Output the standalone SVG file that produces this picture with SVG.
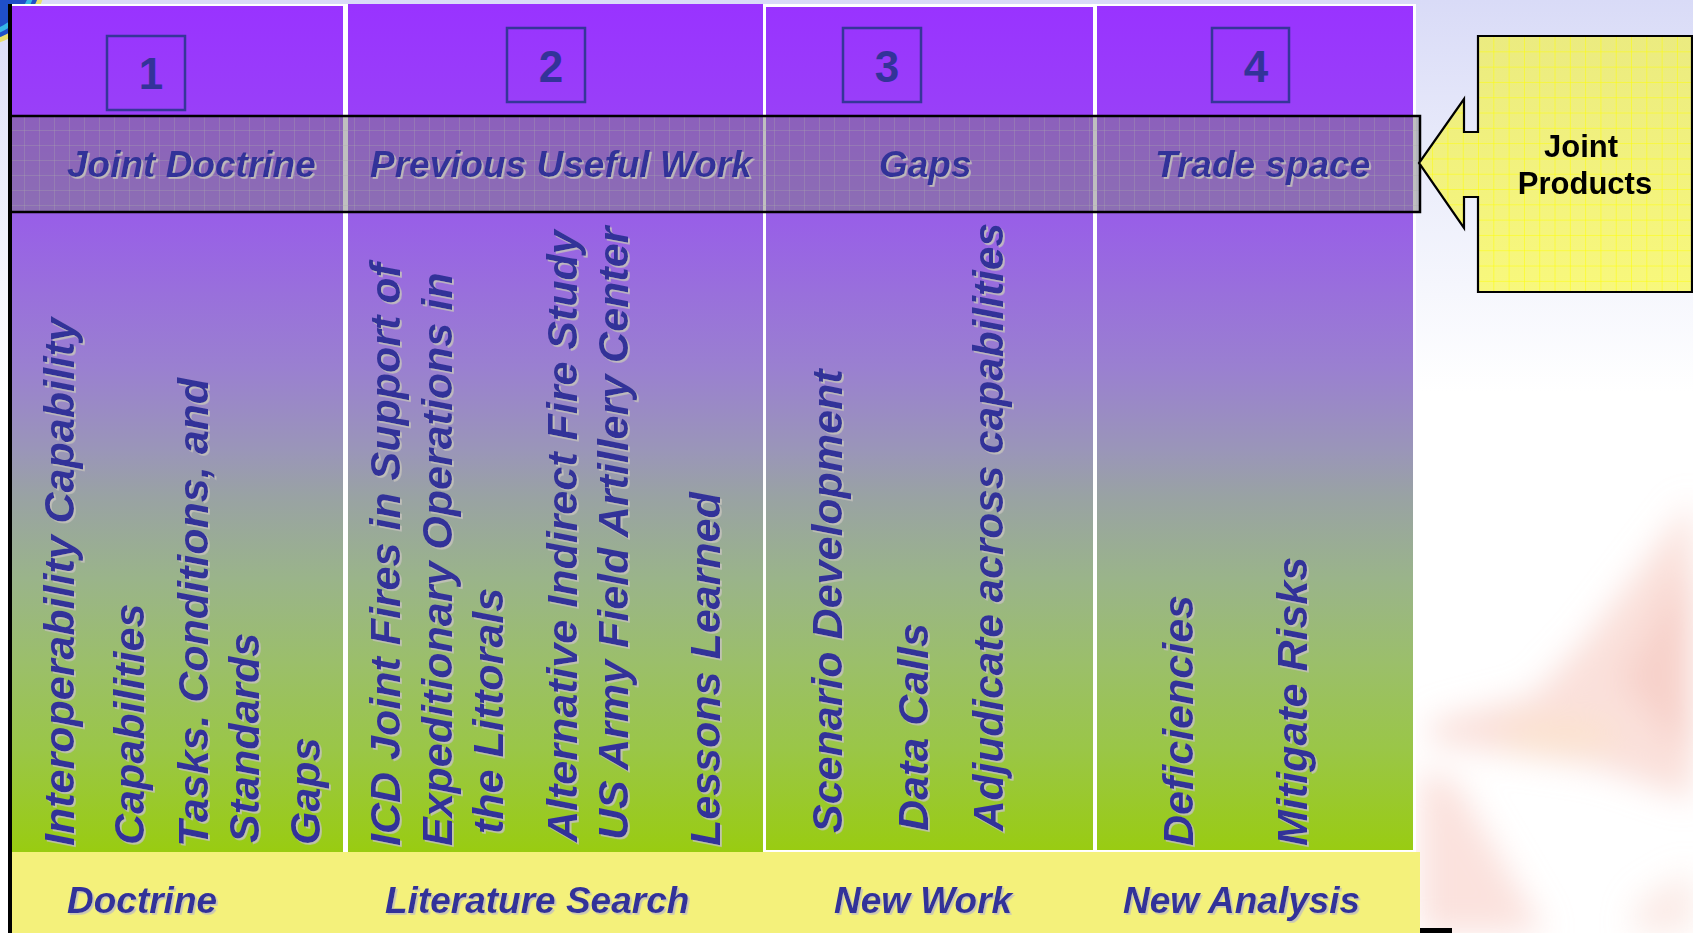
<svg xmlns="http://www.w3.org/2000/svg" width="1693" height="933" viewBox="0 0 1693 933">
  <style>
    .lbl { font-family: "Liberation Sans", Arial, sans-serif; font-weight: bold; font-style: italic; font-size: 37px; fill: #333399; }
    .vt { font-family: "Liberation Sans", Arial, sans-serif; font-weight: bold; font-style: italic; font-size: 43px; fill: #333399; }
    .num { font-family: "Liberation Sans", Arial, sans-serif; font-weight: bold; font-size: 44px; fill: #333399; text-anchor: middle; }
    .numbox { fill: none; stroke: #363699; stroke-width: 2.5; }
    .col { fill: url(#colFill); }
    .col-edged { fill: url(#colFill); stroke: #ffffff; stroke-width: 2; }
    .jp { font-family: "Liberation Sans", Arial, sans-serif; font-weight: bold; font-size: 31px; fill: #000000; text-anchor: middle; }
  </style>
  <defs>
    <linearGradient id="pageBg" gradientUnits="userSpaceOnUse" x1="0" y1="0" x2="0" y2="933">
      <stop offset="0" stop-color="#d9dbf7"/>
      <stop offset="0.2" stop-color="#eceefb"/>
      <stop offset="0.42" stop-color="#ffffff"/>
      <stop offset="1" stop-color="#ffffff"/>
    </linearGradient>
    <linearGradient id="colFill" gradientUnits="userSpaceOnUse" x1="0" y1="6" x2="0" y2="852">
      <stop offset="0" stop-color="#9933ff"/>
      <stop offset="0.13" stop-color="#9940f8"/>
      <stop offset="0.245" stop-color="#985ee8"/>
      <stop offset="0.428" stop-color="#9a80d0"/>
      <stop offset="0.527" stop-color="#9a96b8"/>
      <stop offset="0.578" stop-color="#99a2a4"/>
      <stop offset="0.677" stop-color="#9ab48a"/>
      <stop offset="0.777" stop-color="#9bbf6a"/>
      <stop offset="0.876" stop-color="#9ac648"/>
      <stop offset="1" stop-color="#99cc11"/>
    </linearGradient>
    <linearGradient id="calloutFill" x1="0" y1="0" x2="0" y2="1">
      <stop offset="0" stop-color="#ebeb80"/>
      <stop offset="1" stop-color="#f8f87c"/>
    </linearGradient>
    <pattern id="bandGrid" width="15" height="15" patternUnits="userSpaceOnUse" x="10" y="116">
      <path d="M15 0 V15 M0 15 H15" stroke="#a8a8a8" stroke-width="1" fill="none" opacity="0.6"/>
    </pattern>
    <pattern id="yellowGrid" width="15.3" height="15.3" patternUnits="userSpaceOnUse" x="1479" y="37">
      <path d="M15.3 0 V15.3 M0 15.3 H15.3" stroke="#ffff00" stroke-width="1" fill="none"/>
    </pattern>
    <filter id="textShadow" x="-5%" y="-5%" width="110%" height="110%">
      <feDropShadow dx="1.8" dy="1.8" stdDeviation="0.3" flood-color="#c4c2bc" flood-opacity="0.9"/>
    </filter>
    <filter id="soft" x="-50%" y="-50%" width="200%" height="200%">
      <feGaussianBlur stdDeviation="16"/>
    </filter>
  </defs>

  <!-- page backdrop -->
  <g id="backdrop">
    <rect x="0" y="0" width="1693" height="933" fill="url(#pageBg)"/>
    <g filter="url(#soft)">
      <path d="M1693,500 L1585,640 L1533,695 L1430,722 L1430,742 L1600,768 L1693,800 Z" fill="#f7cbc3" opacity="0.6"/>
      <path d="M1693,560 L1620,680 L1693,760 Z" fill="#f5beb5" opacity="0.45"/>
      <path d="M1420,770 L1455,780 L1545,933 L1420,933 Z" fill="#f8cec6" opacity="0.6"/>
      <path d="M1640,900 L1693,870 L1693,933 L1630,933 Z" fill="#f7d0c8" opacity="0.45"/>
      <ellipse cx="1560" cy="735" rx="60" ry="16" fill="#fbe6c4" opacity="0.5"/>
    </g>
    <!-- seal corner peeking out at top left -->
    <circle cx="-22" cy="-22" r="68" fill="#e9df6a"/>
    <circle cx="-22" cy="-22" r="63" fill="#1f4fc8"/>
    <circle cx="-22" cy="-22" r="56" fill="none" stroke="#36b6e6" stroke-width="5"/>
  </g>

  <!-- phase columns -->
  <g id="columns">
    <rect x="11" y="4" width="1405" height="849" fill="#ffffff"/>
    <rect id="col-1" class="col" x="12" y="6" width="331" height="846"/>
    <rect id="col-2" class="col" x="348" y="4" width="415" height="848"/>
    <rect id="col-3" class="col-edged" x="765" y="6" width="329" height="845"/>
    <rect id="col-4" class="col-edged" x="1096" y="5" width="318" height="846"/>
  </g>

  <!-- numbered tags -->
  <g id="tag-1">
    <rect class="numbox" x="107" y="36" width="78" height="74"/>
    <text class="num" x="151" y="89">1</text>
  </g>
  <g id="tag-2">
    <rect class="numbox" x="507" y="28" width="78" height="74"/>
    <text class="num" x="551" y="82">2</text>
  </g>
  <g id="tag-3">
    <rect class="numbox" x="843" y="28" width="78" height="74"/>
    <text class="num" x="887" y="82">3</text>
  </g>
  <g id="tag-4">
    <rect class="numbox" x="1212" y="28" width="77" height="74"/>
    <text class="num" x="1256" y="82">4</text>
  </g>

  <!-- translucent heading band -->
  <g id="heading-band">
    <rect x="10" y="116" width="1410" height="96" fill="#808080" fill-opacity="0.5"/>
    <rect x="10" y="116" width="1410" height="96" fill="url(#bandGrid)"/>
    <rect x="10" y="116" width="1410" height="96" fill="none" stroke="#000000" stroke-width="2.5"/>
    <g filter="url(#textShadow)">
      <text class="lbl" x="67" y="177">Joint Doctrine</text>
      <text class="lbl" x="370" y="177">Previous Useful Work</text>
      <text class="lbl" x="879" y="177">Gaps</text>
      <text class="lbl" x="1155" y="177">Trade space</text>
    </g>
  </g>

  <!-- column items, read bottom to top -->
  <g id="items-1" filter="url(#textShadow)">
    <text class="vt" transform="translate(74,846) rotate(-90)">Interoperability Capability</text>
    <text class="vt" transform="translate(144,845) rotate(-90)">Capabilities</text>
    <text class="vt" transform="translate(208,847) rotate(-90)">Tasks. Conditions, and</text>
    <text class="vt" transform="translate(259,843) rotate(-90)">Standards</text>
    <text class="vt" transform="translate(320,845) rotate(-90)">Gaps</text>
  </g>
  <g id="items-2" filter="url(#textShadow)">
    <text class="vt" transform="translate(400,846) rotate(-90)">ICD Joint Fires in Support of</text>
    <text class="vt" transform="translate(452,846) rotate(-90)">Expeditionary Operations in</text>
    <text class="vt" transform="translate(503,834) rotate(-90)">the Littorals</text>
    <text class="vt" transform="translate(577,842) rotate(-90)">Alternative Indirect Fire Study</text>
    <text class="vt" transform="translate(628,840) rotate(-90)">US Army Field Artillery Center</text>
    <text class="vt" transform="translate(720,846) rotate(-90)">Lessons Learned</text>
  </g>
  <g id="items-3" filter="url(#textShadow)">
    <text class="vt" transform="translate(842,833) rotate(-90)">Scenario Development</text>
    <text class="vt" transform="translate(928,831) rotate(-90)">Data Calls</text>
    <text class="vt" transform="translate(1003,831) rotate(-90)" textLength="608" lengthAdjust="spacingAndGlyphs">Adjudicate across capabilities</text>
  </g>
  <g id="items-4" filter="url(#textShadow)">
    <text class="vt" transform="translate(1193,846) rotate(-90)">Deficiencies</text>
    <text class="vt" transform="translate(1307,846) rotate(-90)">Mitigate Risks</text>
  </g>

  <!-- footer band with phase names -->
  <g id="footer-band">
    <rect x="12" y="852" width="1408" height="81" fill="#f4f17b"/>
    <g filter="url(#textShadow)">
      <text class="lbl" x="67" y="913">Doctrine</text>
      <text class="lbl" x="385" y="913">Literature Search</text>
      <text class="lbl" x="834" y="913">New Work</text>
      <text class="lbl" x="1123" y="913">New Analysis</text>
    </g>
  </g>

  <!-- frame pieces -->
  <g id="frame">
    <rect x="8" y="4" width="4" height="929" fill="#000000"/>
    <rect x="1420" y="928" width="32" height="5" fill="#000000"/>
  </g>

  <!-- left-pointing callout -->
  <g id="joint-products">
    <path d="M1478,36 L1692,36 L1692,292 L1478,292 L1478,197 L1464,197 L1464,228 L1419,163 L1464,99 L1464,132 L1478,132 Z" fill="url(#calloutFill)"/>
    <path d="M1478,36 L1692,36 L1692,292 L1478,292 L1478,197 L1464,197 L1464,228 L1419,163 L1464,99 L1464,132 L1478,132 Z" fill="url(#yellowGrid)"/>
    <path d="M1478,36 L1692,36 L1692,292 L1478,292 L1478,197 L1464,197 L1464,228 L1419,163 L1464,99 L1464,132 L1478,132 Z" fill="none" stroke="#000000" stroke-width="2.2"/>
    <text class="jp" x="1581" y="157">Joint</text>
    <text class="jp" x="1585" y="194">Products</text>
  </g>
</svg>
